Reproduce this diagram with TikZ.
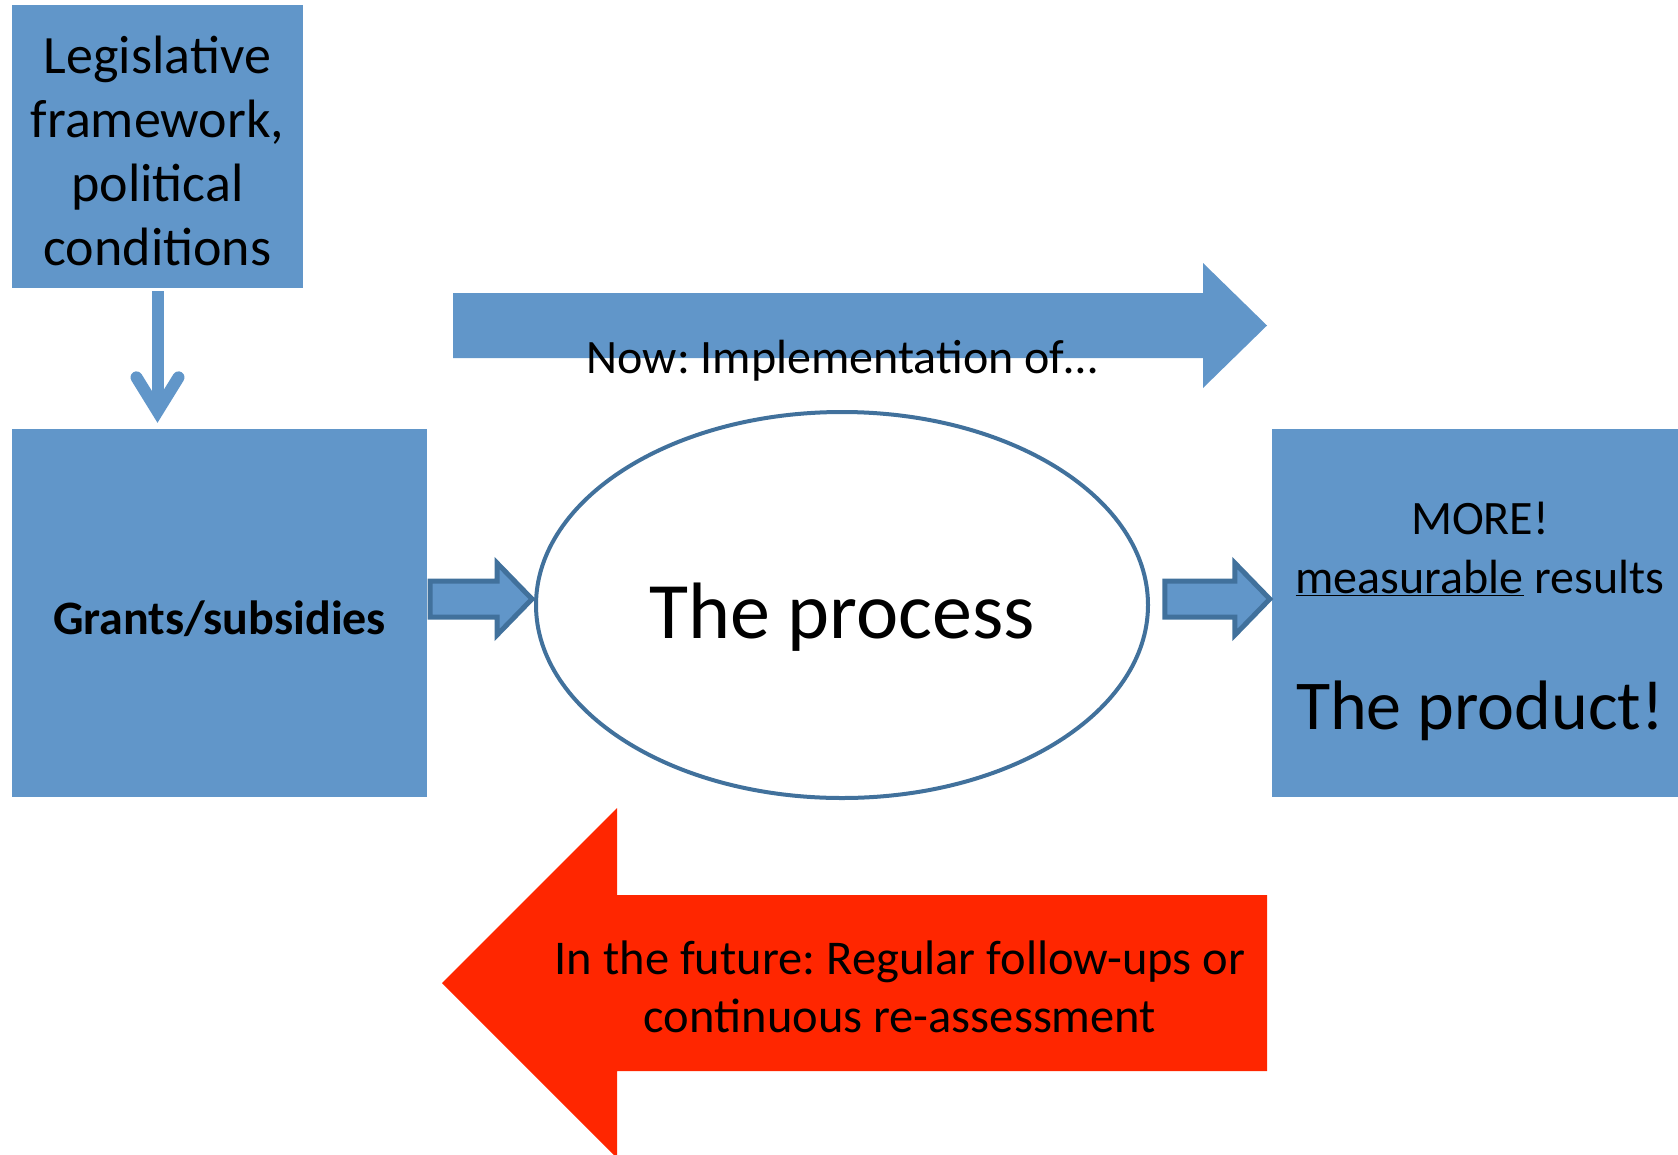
\documentclass[tikz,border=0pt]{standalone}
\usepackage{fontspec}
\setmainfont{Carlito}
\frenchspacing
\usetikzlibrary{shapes.geometric, arrows.meta}
\definecolor{boxblue}{RGB}{97,150,201}
\definecolor{edgeblue}{RGB}{65,113,156}
\definecolor{futurered}{RGB}{255,38,0}
\tikzstyle{bluebox} = [rectangle, fill=boxblue, inner sep=0pt, text centered]
\tikzstyle{blockconn} = [fill=boxblue, draw=edgeblue, line width=5pt, line join=miter]
\tikzstyle{downarrow} = [draw=boxblue, line width=12pt, shorten <=3pt, shorten >=6pt, -{Straight Barb[length=34pt, width=42pt, line cap=round]}]

\begin{document}
\begin{tikzpicture}[x=1pt,y=-1pt]
        \useasboundingbox (0,0) rectangle (1678,1154);
        \clip (0,0) rectangle (1678,1154);
        \node [bluebox, minimum width=291pt, minimum height=283pt, align=center, font=\fontsize{54pt}{64pt}\selectfont] at (157.5,146.5) (legis) {\rule{0pt}{46pt}Legislative\\framework,\\political\\conditions};
        \node [bluebox, minimum width=415pt, minimum height=368pt, text height=42pt, text depth=0pt, font=\bfseries\fontsize{48pt}{56pt}\selectfont] at (219.5,613) (grants) {Grants/subsidies};
        \node [bluebox, minimum width=416pt, minimum height=368pt, align=center, font=\fontsize{48pt}{59pt}\selectfont] at (1480,613) (product) {\rule{0pt}{49pt}MORE!\\\underline{measurable} results\\[77pt]{\fontsize{70pt}{84pt}\selectfont The product!}};
        \node [ellipse, draw=edgeblue, line width=4pt, fill=white, minimum width=612pt, minimum height=386pt, text height=66pt, text depth=0pt, font=\fontsize{80pt}{96pt}\selectfont] at (842,605) (process) {The process};
        \fill [boxblue] (453,293) -- (1203,293) -- (1203,263) -- (1267,325.5) -- (1203,388) -- (1203,358) -- (453,358) -- cycle;
        \node [anchor=base, font=\fontsize{48pt}{57pt}\selectfont] at (842,373) (now) {Now: Implementation of…};
        \fill [futurered] (442,983) -- (617,808) -- (617,895) -- (1267,895) -- (1267,1071) -- (617,1071) -- (617,1158) -- cycle;
        \node [align=center, font=\fontsize{48.5pt}{58pt}\selectfont] at (900,987) (future) {In the future: Regular follow-ups or\\continuous re-assessment};
        \draw [downarrow] (legis.south) -- (legis.south |- grants.north);
        \draw [blockconn] ([xshift=-2pt,yshift=6pt]process.west) -- ++(-35,-36) -- ++(0,18) -- ++(-67,0) -- ++(0,36) -- ++(67,0) -- ++(0,18) -- cycle;
        \draw [blockconn] ([xshift=-2pt,yshift=14pt]product.west) -- ++(-35,-36) -- ++(0,18) -- ++(-70,0) -- ++(0,36) -- ++(70,0) -- ++(0,18) -- cycle;
        \end{tikzpicture}
\end{document}
